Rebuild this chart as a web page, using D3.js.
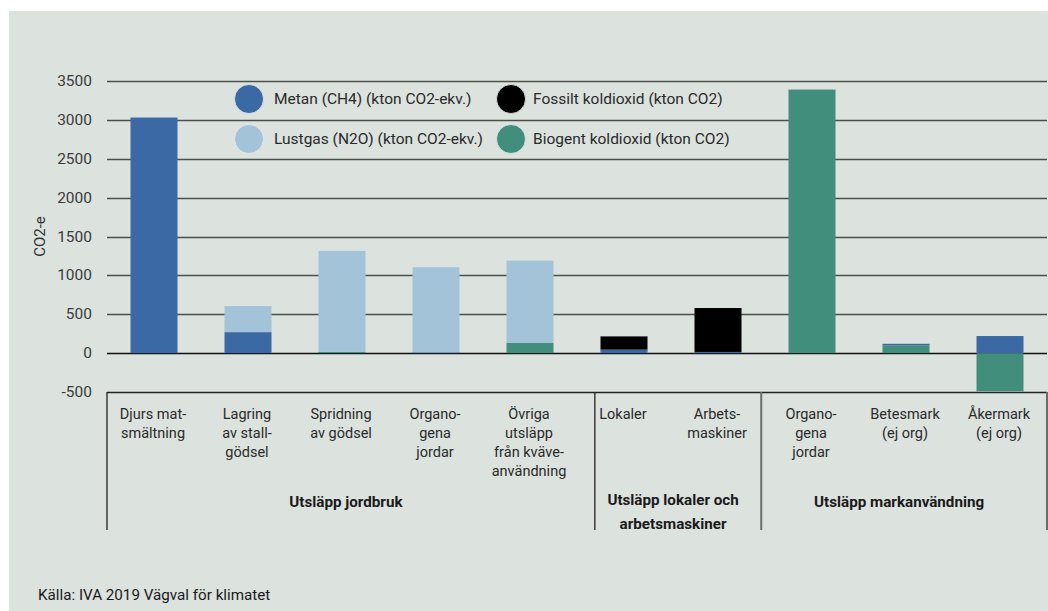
<!DOCTYPE html>
<html>
<head>
<meta charset="utf-8">
<script src="https://cdn.jsdelivr.net/npm/d3@7"></script>
<style>
  body { margin: 0; background: #fff; }
  svg { display: block; font-family: Roboto, "Noto Sans", sans-serif; }
</style>
</head>
<body>
<svg id="chart" width="1048" height="611"></svg>
<script>
// categories (label lines) and their group
var categories = [
  ["Djurs mat-", "smältning"],
  ["Lagring", "av stall-", "gödsel"],
  ["Spridning", "av gödsel"],
  ["Organo-", "gena", "jordar"],
  ["Övriga", "utsläpp", "från kväve-", "användning"],
  ["Lokaler"],
  ["Arbets-", "maskiner"],
  ["Organo-", "gena", "jordar"],
  ["Betesmark", "(ej org)"],
  ["Åkermark", "(ej org)"]
]
var groups = [
  ["Utsläpp jordbruk"],
  ["Utsläpp lokaler och", "arbetsmaskiner"],
  ["Utsläpp markanvändning"]
]

// series values, kton
var metan   = [3030, 270,    0,   10,    0,  45,  15,    0,  20,  220]
var lustgas = [   0, 335, 1300, 1095, 1060,   0,   0,    0,   0,    0]
var fossil  = [   0,   0,    0,    0,    0, 170, 565,    0,   0,    0]
var biogent = [   0,   0,   15,    0,  130,   0,   0, 3390, 100, -490]

var seriesNames = ["Metan (CH4) (kton CO2-ekv.)", "Fossilt koldioxid (kton CO2)",
                   "Lustgas (N2O) (kton CO2-ekv.)", "Biogent koldioxid (kton CO2)"]
var yTicks = [-500, 0, 500, 1000, 1500, 2000, 2500, 3000, 3500]

var colors = {metan: "#3b69a4", lustgas: "#a3c4d8", fossil: "#000000", biogent: "#428e7d"}
var legendKeys = ["metan", "fossil", "lustgas", "biogent"]

////////
var svg = d3.select("#chart")
var plotL = 107, plotR = 1047, plotT = 81, plotB = 392

svg.append("rect").attr("x", 9).attr("y", 11).attr("width", 1048 - 9).attr("height", 600)
  .attr("fill", "#dce2de")

var x = d3.scaleBand().domain(d3.range(categories.length)).range([plotL, plotR]).paddingInner(0.5).paddingOuter(0.25)
var y = d3.scaleLinear().domain([-500, 3500]).range([plotB, plotT])

var rows = d3.range(categories.length).map(function (i) {
  return {i: i, metan: metan[i], lustgas: lustgas[i], fossil: fossil[i], biogent: biogent[i]}
})
var stack = d3.stack().keys(["biogent", "metan", "lustgas", "fossil"]).offset(d3.stackOffsetDiverging)
var layers = stack(rows)

// gridlines
svg.append("g").selectAll("line").data(yTicks.filter(function (t) { return t > -500 }))
  .enter().append("line")
  .attr("x1", plotL).attr("x2", plotR)
  .attr("y1", function (d) { return Math.round(y(d)) + 0.5 })
  .attr("y2", function (d) { return Math.round(y(d)) + 0.5 })
  .attr("stroke", function (d) { return d === 0 ? "#111" : "#4a4f4c" })
  .attr("stroke-width", function (d) { return d === 0 ? 1.6 : 1.4 })

// tick labels
svg.append("g").selectAll("text").data(yTicks).enter().append("text")
  .attr("x", 92).attr("y", function (d) { return y(d) + 5 })
  .attr("text-anchor", "end").attr("font-size", 15.5).attr("fill", "#3a3a3a")
  .text(function (d) { return d })

svg.append("text").attr("transform", "translate(45," + (plotT + plotB) / 2 + ")rotate(-90)")
  .attr("text-anchor", "middle").attr("font-size", 15).attr("fill", "#333").text("CO2-e")

// bars
svg.append("g").selectAll("g").data(layers).enter().append("g")
  .attr("fill", function (d) { return colors[d.key] })
  .selectAll("rect").data(function (d) { return d }).enter().append("rect")
  .attr("x", function (d) { return x(d.data.i) })
  .attr("width", x.bandwidth())
  .attr("y", function (d) { return y(Math.max(d[0], d[1])) })
  .attr("height", function (d) { return Math.abs(y(d[0]) - y(d[1])) })

// bottom axis and group separators
var step = x.step()
var seps = [plotL, plotL + step * 5.19, plotL + step * 6.96, plotR]
svg.append("line").attr("x1", plotL).attr("x2", plotR).attr("y1", plotB + 0.5).attr("y2", plotB + 0.5)
  .attr("stroke", "#222").attr("stroke-width", 1.3)
svg.append("g").selectAll("line").data(seps).enter().append("line")
  .attr("x1", function (d) { return d }).attr("x2", function (d) { return d })
  .attr("y1", plotB).attr("y2", 530)
  .attr("stroke", function (d, i) { return i < 2 ? "#222" : "#6a6e6b" })
  .attr("stroke-width", function (d, i) { return i < 2 ? 1.3 : 2 })

// category labels
var cat = svg.append("g").selectAll("text").data(categories).enter().append("text")
  .attr("text-anchor", "middle").attr("font-size", 14.5).attr("fill", "#2a2a2a")
  .attr("transform", function (d, i) { return "translate(" + (x(i) + x.bandwidth() / 2 - 1) + ",419)" })
cat.selectAll("tspan").data(function (d) { return d }).enter().append("tspan")
  .attr("x", 0).attr("y", function (d, j) { return j * 19 })
  .text(function (d) { return d })

// group labels
var grp = svg.append("g").selectAll("text").data(groups).enter().append("text")
  .attr("text-anchor", "middle").attr("font-size", 15.2).attr("font-weight", "bold").attr("fill", "#1a1a1a")
  .attr("transform", function (d, i) { return "translate(" + ((seps[i] + seps[i + 1]) / 2 - 5) + ",507)" })
grp.selectAll("tspan").data(function (d) { return d }).enter().append("tspan")
  .attr("x", 0).attr("y", function (d, j) { return j * 22 - (d === "Utsläpp lokaler och" ? 2 : 0) })
  .text(function (d) { return d })

// legend
var lg = svg.append("g").selectAll("g").data(legendKeys).enter().append("g")
  .attr("transform", function (d, i) { return "translate(" + (249 + (i % 2) * 262) + "," + (99 + Math.floor(i / 2) * 40) + ")" })
lg.append("circle").attr("r", 14.5).attr("fill", function (d) { return colors[d] })
  .attr("stroke", "#e8eeea").attr("stroke-width", 0.8)
lg.append("text").attr("x", function (d, i) { return i % 2 ? 22 : 25 }).attr("y", 5)
  .attr("font-size", 15.5).attr("fill", "#2a2a2a")
  .text(function (d, i) { return seriesNames[i] })

// source
svg.append("text").attr("x", 38).attr("y", 600).attr("font-size", 15.2).attr("fill", "#1a1a1a")
  .text("Källa: IVA 2019 Vägval för klimatet")
</script>
</body>
</html>
